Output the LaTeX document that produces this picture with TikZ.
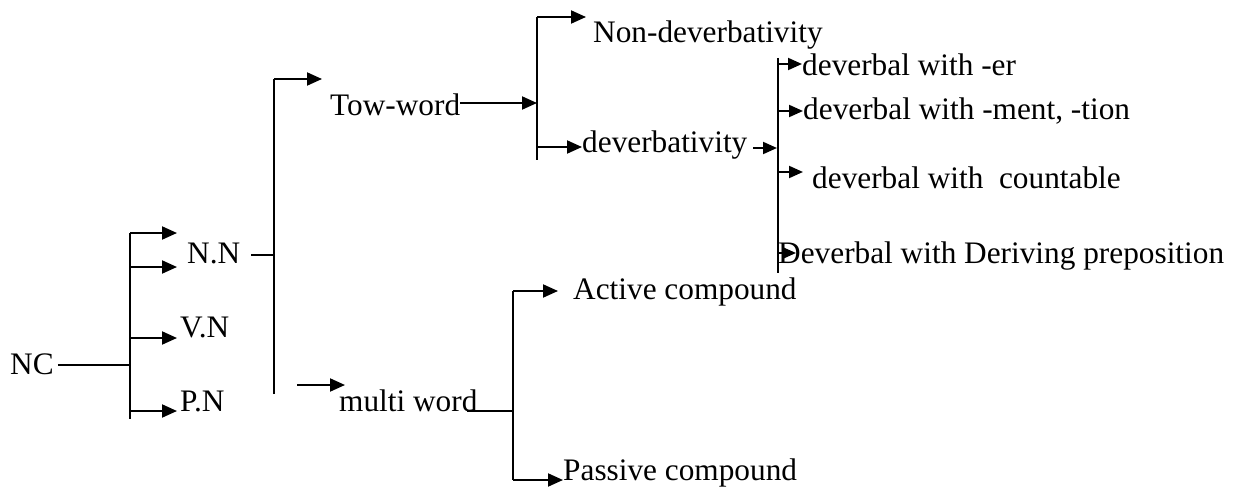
\documentclass[tikz,border=0pt]{standalone}
\usepackage{fontspec}
\setmainfont{Liberation Serif}
\usetikzlibrary{arrows.meta}
\begin{document}
\begin{tikzpicture}[x=1pt,y=-1pt,
  lbl/.style={inner sep=0pt, anchor=base west, font=\fontsize{31.3}{31}\selectfont},
  bar/.style={line width=2pt},
  fine/.style={line width=1.1pt},
  arr/.style={line width=2pt, -{Triangle[length=15pt,width=13pt]}},
  sarr/.style={line width=2pt, -{Triangle[length=14pt,width=12pt]}},
]
\useasboundingbox (0,0) rectangle (1237,487);

% labels
\node[lbl] (nc) at (10,374) {NC};
\node[lbl] (nn) at (187,263) {N.N};
\node[lbl] (vn) at (180,337) {V.N};
\node[lbl] (pn) at (180,411) {P.N};
\node[lbl] (tw) at (330,115) {Tow-word};
\node[lbl] (mw) at (339,411) {multi word};
\node[lbl] (nd) at (593,43) {Non-deverbativity};
\node[lbl] (dv) at (582,152) {deverbativity};
\node[lbl] (er) at (802,76) {deverbal with -er};
\node[lbl] (ment) at (803,119) {deverbal with -ment, -tion};
\node[lbl] (cnt) at (812,188) {deverbal with\ \ countable};
\node[lbl] (dp) at (778,263) {Deverbal with Deriving preposition};
\node[lbl] (ac) at (573,299) {Active compound};
\node[lbl] (pc) at (563,480) {Passive compound};

% bracket 1 (NC)
\coordinate (a1) at (130,233);
\coordinate (a2) at (130,267);
\coordinate (a3) at (130,338);
\coordinate (a4) at (130,411);
\coordinate (a0) at (130,365);
\coordinate (a5) at (130,419);
\coordinate (t1) at (177,233);
\draw[fine] ([xshift=4pt]nc.east |- a0) -- (a0);
\draw[bar] (a1) -- (a5);
\draw[arr] (a1) -- (t1);
\draw[arr] (a2) -- (a2 -| t1);
\draw[arr] (a3) -- (a3 -| t1);
\draw[arr] (a4) -- (a4 -| t1);

% bracket 2 (N.N)
\coordinate (b0) at (274,255);
\coordinate (b1) at (274,79);
\coordinate (b2) at (274,394);
\coordinate (t2) at (322,79);
\draw[fine] ([xshift=11pt]nn.east |- b0) -- (b0);
\draw[bar] (b2) -- (b1);
\draw[arr] (b1) -- (t2);
\coordinate (m1) at (297,385);
\coordinate (m2) at (345,385);
\draw[arr] (m1) -- (m2);

% bracket 3 (Tow-word)
\coordinate (c1) at (537,17);
\coordinate (c2) at (537,160);
\coordinate (c3) at (537,147);
\coordinate (c0) at (537,103);
\draw[arr] (tw.east |- c0) -- (c0);
\draw[bar] (c1) -- (c2);
\draw[arr] (c1) -- (586,17);
\draw[arr] (c3) -- (dv.west |- c3);

% bracket 4 (deverbativity)
\coordinate (d1) at (778,58);
\coordinate (d2) at (778,273);
\coordinate (d0) at (777,148);
\coordinate (dvs) at (753,148);
\draw[sarr] (dvs) -- (d0);
\draw[bar] (d1) -- (d2);
\coordinate (e1) at (778,64);
\coordinate (e2) at (778,111);
\coordinate (e3) at (778,172);
\coordinate (e4) at (778,253);
\draw[sarr] (e1) -- (er.west |- e1);
\draw[sarr] (e2) -- (ment.west |- e2);
\draw[sarr] (e3) -- (803,172);
\draw[sarr] (e4) -- (796,253);

% bracket 5 (multi word)
\coordinate (f0) at (513,411);
\coordinate (f1) at (513,291);
\coordinate (f2) at (513,480);
\draw[fine] (467,411) -- (f0);
\draw[bar] (f1) -- (f2);
\draw[arr] (f1) -- (558,291);
\draw[arr] (f2) -- (pc.west |- f2);
\end{tikzpicture}
\end{document}
